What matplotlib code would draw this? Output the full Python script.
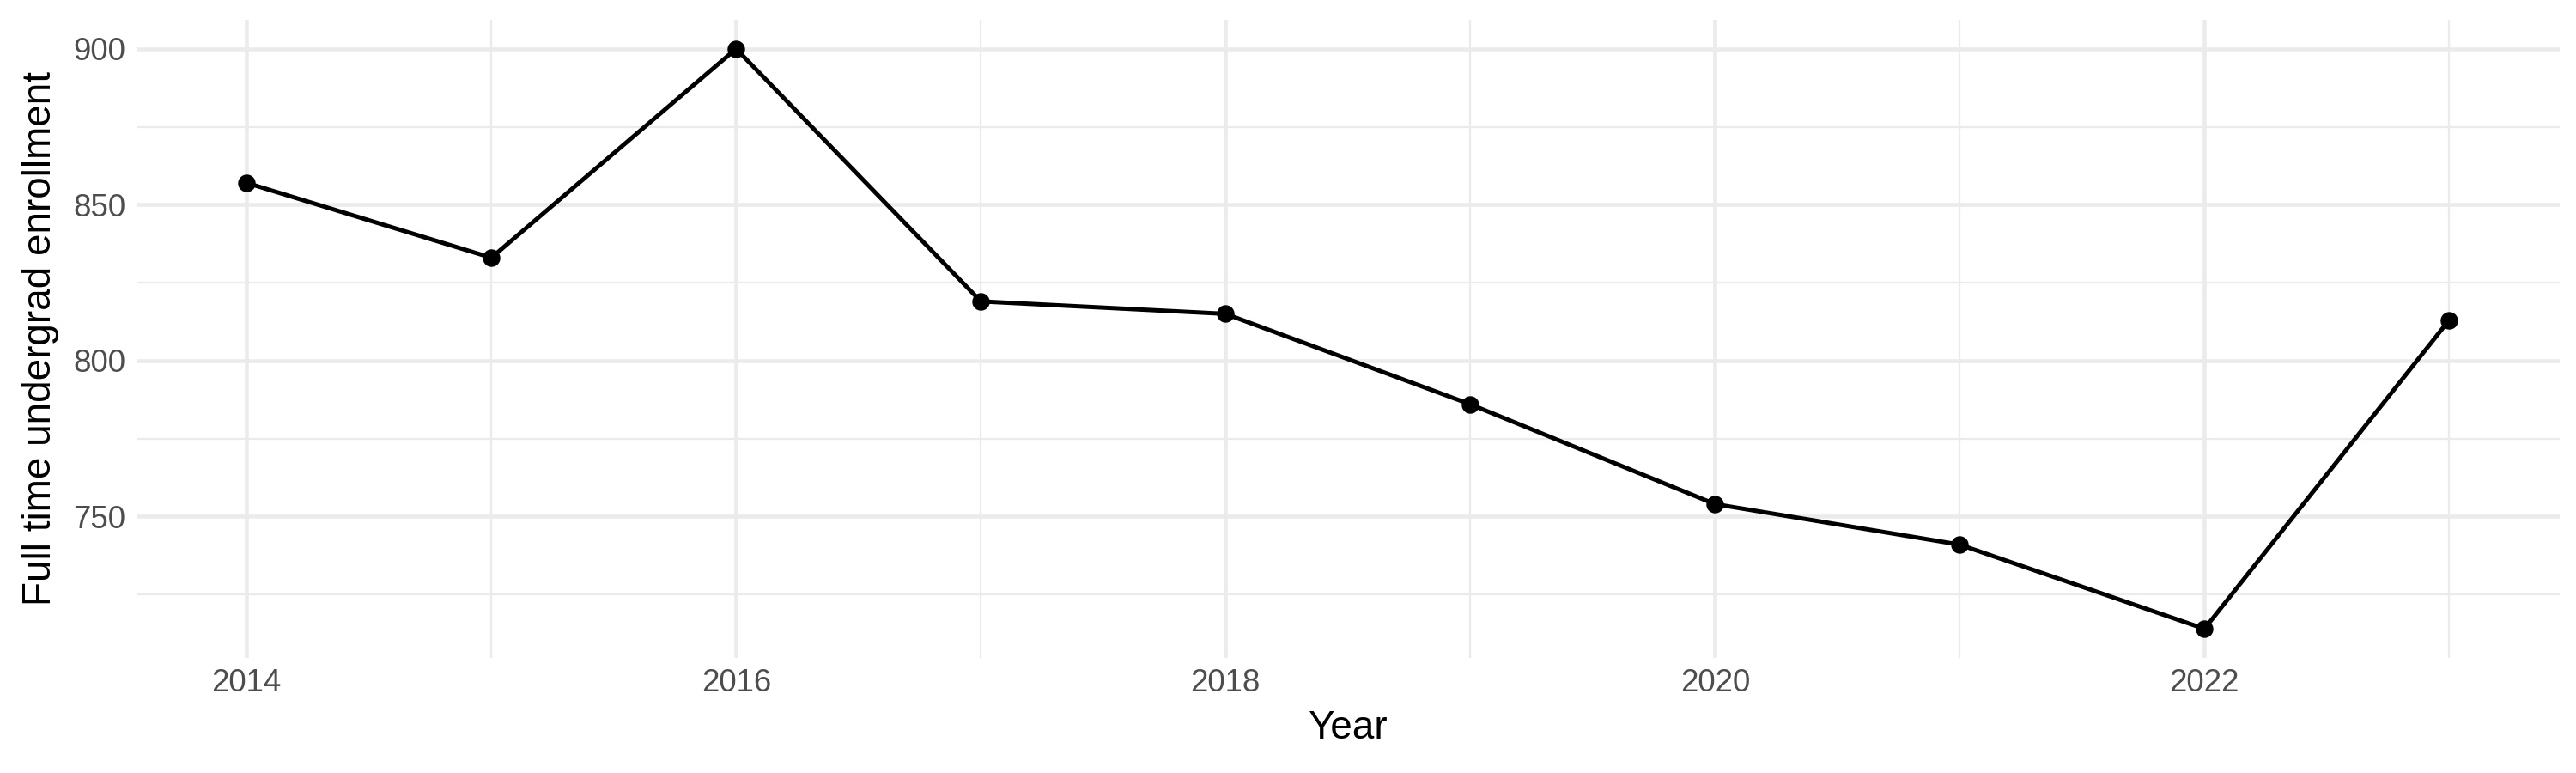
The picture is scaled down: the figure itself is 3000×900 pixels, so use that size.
import numpy as np
import matplotlib
matplotlib.use('Agg')
import matplotlib.pyplot as plt
from matplotlib.ticker import FixedLocator

plt.rcParams['font.family'] = ['Liberation Sans', 'DejaVu Sans']

years = [2014, 2015, 2016, 2017, 2018, 2019, 2020, 2021, 2022, 2023]
enrollment = [857, 833, 900, 819, 815, 786, 754, 741, 714, 813]

x_major = [2014, 2016, 2018, 2020, 2022]
x_minor = [2015, 2017, 2019, 2021, 2023]
y_major = [750, 800, 850, 900]
y_minor = [725, 775, 825, 875]

fig = plt.figure(figsize=(10, 3), dpi=300)
ax = fig.add_axes([0.053, 0.149, 0.9405, 0.8254])

grid_col = '#EBEBEB'
# ggplot-like 5% expansion
xr = max(years) - min(years)
yr = max(enrollment) - min(enrollment)
ax.set_xlim(min(years) - 0.05 * xr, max(years) + 0.05 * xr)
ax.set_ylim(min(enrollment) - 0.05 * yr, max(enrollment) + 0.05 * yr)

ax.xaxis.set_major_locator(FixedLocator(x_major))
ax.xaxis.set_minor_locator(FixedLocator(x_minor))
ax.yaxis.set_major_locator(FixedLocator(y_major))
ax.yaxis.set_minor_locator(FixedLocator(y_minor))
ax.grid(True, which='major', color=grid_col, linewidth=1.1)
ax.grid(True, which='minor', color=grid_col, linewidth=0.55)
ax.set_axisbelow(True)

ax.plot(years, enrollment, color='black', linewidth=1.2, zorder=3)
ax.scatter(years, enrollment, color='black', s=24, zorder=4, linewidths=0)

for s in ax.spines.values():
    s.set_visible(False)
ax.tick_params(which='both', length=0)
ax.tick_params(axis='both', labelsize=8.8, labelcolor='#4D4D4D', pad=3)

ax.set_xlabel('Year', fontsize=11, color='black', labelpad=3)
ax.set_ylabel('Full time undergrad enrollment', fontsize=11, color='black', labelpad=4)

fig.savefig('out.png', dpi=300)
